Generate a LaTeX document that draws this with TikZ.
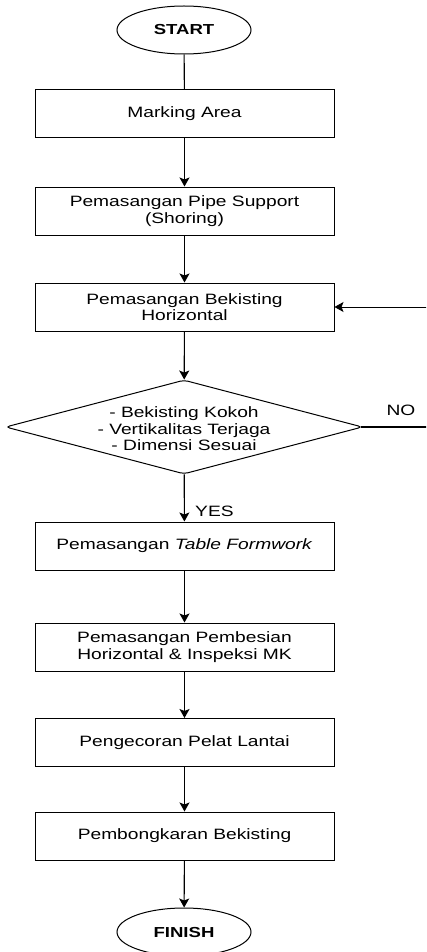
\documentclass[tikz,border=0pt]{standalone}
\usepackage{fontspec}
\setmainfont{Liberation Sans}[FakeStretch=1.28]
\usetikzlibrary{shapes.geometric,arrows.meta}
\begin{document}
\begin{tikzpicture}[x=1pt,y=-1pt,
  every node/.style={font=\fontsize{15}{16.5}\selectfont},
  term/.style={draw,ellipse,line width=1pt,minimum width=134pt,minimum height=48pt,inner sep=0pt,font=\fontsize{14.5}{16}\selectfont\bfseries},
  proc/.style={draw,rectangle,line width=1pt,minimum width=299pt,minimum height=48pt,inner sep=0pt,align=center},
  flow/.style={line width=1.1pt,-{Stealth[length=9pt,width=10pt,inset=2pt]}},
  plain/.style={line width=1.1pt}
]
\useasboundingbox (0,0) rectangle (426,952);
\node[term] (start) at (184,30) {START};
\node[proc] (mark) at (184.5,114) {Marking Area};
\node[proc] (pipe) at (184.5,211) {Pemasangan Pipe Support\\(Shoring)};
\node[proc] (bekh) at (184.5,307) {Pemasangan Bekisting\\Horizontal};
\node[draw,diamond,line width=1pt,rounded corners=4pt,minimum width=357pt,minimum height=94pt,inner sep=0pt,aspect=3.8] (dec) at (184,427) {};
\node[align=center] (dectext) at (184,429) {- Bekisting Kokoh\\- Vertikalitas Terjaga\\- Dimensi Sesuai};
\node[proc] (tf) at (184.5,546) {Pemasangan \textit{Table Formwork}};
\node[proc] (pemb) at (184.5,647) {Pemasangan Pembesian\\Horizontal \& Inspeksi MK};
\node[proc] (peng) at (184.5,742.5) {Pengecoran Pelat Lantai};
\node[proc] (bong) at (184.5,836) {Pembongkaran Bekisting};
\node[term] (finish) at (184,932) {FINISH};

\draw[plain] (start) -- (mark);
\draw[flow] (mark) -- (pipe);
\draw[flow] (pipe) -- (bekh);
\draw[flow] (bekh) -- (dec);
\draw[flow] (dec) -- node[pos=0.78,right,xshift=7pt] (yes) {YES} (tf);
\draw[flow] (tf) -- (pemb);
\draw[flow] (pemb) -- (peng);
\draw[flow] (peng) -- (bong);
\draw[flow] (bong) -- (finish);
\begin{scope}
\clip (0,0) rectangle (426,952);
\coordinate (loopx) at (432,427);
\draw[line width=1.1pt] ([xshift=-2.5pt]dec.east) -- (loopx);
\draw[line width=0.8pt,-{Stealth[length=9pt,width=10pt,inset=2pt]}] (loopx) |- (bekh.east);
\end{scope}
\node (no) at (401,410) {NO};
\end{tikzpicture}
\end{document}
